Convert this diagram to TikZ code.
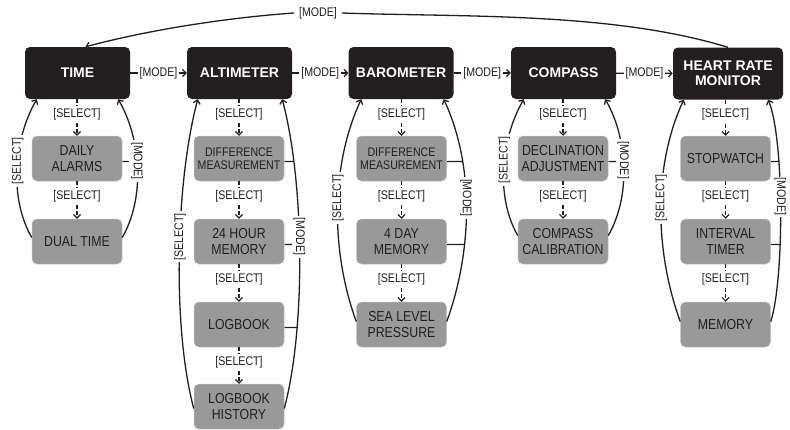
\documentclass[tikz,border=0pt]{standalone}
\usepackage{fontspec}
\setmainfont{Liberation Sans}
\newfontfamily\narrowfont[FakeStretch=0.85]{Liberation Sans}
\usetikzlibrary{arrows.meta,calc,intersections}
\pgfdeclarelayer{bg}
\pgfsetlayers{bg,main}
\definecolor{boxblack}{HTML}{231F20}
\definecolor{boxgrey}{HTML}{999999}
\definecolor{ink}{HTML}{231F20}
\newcommand\modetick[2]{%
  \path[name path=tkline] ($(#1.east)+(0,-3)$) -- ++(40,0);
  \begin{pgfonlayer}{bg}
  \draw[draw=ink, line width=1.3pt, name intersections={of=tkline and #2, by=tk}] ($(#1.east)+(0,-3)$) -- (tk);
  \end{pgfonlayer}}
\begin{document}
\begin{tikzpicture}[x=1pt,y=1pt,
  topbox/.style={rounded corners=5pt, fill=boxblack, text=white, font=\fontsize{14}{15}\selectfont\bfseries, minimum width=105pt, minimum height=52pt, align=center, inner sep=2pt},
  subbox/.style={rounded corners=5pt, fill=boxgrey, draw=black!25, line width=0.5pt, text=ink, font=\narrowfont\fontsize{14.5}{15.5}\selectfont, minimum width=90pt, minimum height=45pt, align=center, inner sep=1pt},
  small/.style={font=\narrowfont\fontsize{12.5}{13}\selectfont},
  lbl/.style={font=\narrowfont\fontsize{12.5}{13}\selectfont, text=ink, fill=white, inner sep=2pt},
  tip/.style={-{Straight Barb[length=3.5pt,width=7pt]}},
  flow/.style={draw=ink, line width=1.2pt, tip},
  sel/.style={flow, dash pattern=on 4pt off 2pt},
  loop/.style={draw=ink, line width=1.3pt, tip},
]
\useasboundingbox (0,0) rectangle (790,-429);
% main modes
\node[topbox] (time) at (77.5,-73) {TIME};
\node[topbox] (alt) at (239.5,-73) {ALTIMETER};
\node[topbox] (baro) at (401,-73) {BAROMETER};
\node[topbox] (comp) at (563.5,-73) {COMPASS};
\node[topbox, minimum width=110pt] (hrm) at (728,-73.5) {HEART RATE\\MONITOR};
% sub modes
\node[subbox] (ta) at (77,-158.5) {DAILY\\ALARMS};
\node[subbox] (tb) at (77,-241.5) {DUAL TIME};
\node[subbox, small] (aa) at (239,-158.5) {DIFFERENCE\\MEASUREMENT};
\node[subbox] (ab) at (239,-241.5) {24 HOUR\\MEMORY};
\node[subbox] (ac) at (239,-324.5) {LOGBOOK};
\node[subbox] (ad) at (239,-406.5) {LOGBOOK\\HISTORY};
\node[subbox, small] (ba) at (401.5,-158.5) {DIFFERENCE\\MEASUREMENT};
\node[subbox] (bb) at (401.5,-241.5) {4 DAY\\MEMORY};
\node[subbox] (bc) at (401.5,-324.5) {SEA LEVEL\\PRESSURE};
\node[subbox] (ca) at (563,-158.5) {DECLINATION\\ADJUSTMENT};
\node[subbox] (cb) at (563,-241.5) {COMPASS\\CALIBRATION};
\node[subbox] (ha) at (725.5,-158.5) {STOPWATCH};
\node[subbox] (hb) at (725.5,-241.5) {INTERVAL\\TIMER};
\node[subbox] (hc) at (725.5,-324.5) {MEMORY};
% horizontal mode connectors
\draw[flow] (time) -- node[lbl]{[MODE]} (alt);
\draw[flow] (alt) -- node[lbl]{[MODE]} (baro);
\draw[flow] (baro) -- node[lbl]{[MODE]} (comp);
\draw[flow] (comp) -- node[lbl]{[MODE]} (hrm);
% top return
\node[lbl, inner sep=5pt] (topmode) at (318,-13) {[MODE]};
\coordinate (tmtip) at ($(time.north)+(8,0)$);
\draw[draw=ink, line width=1.3pt] (hrm.north) to[out=163,in=-2,looseness=0.8] (topmode.east);
\draw[loop] (topmode.west) to[out=184,in=15,looseness=0.8] (tmtip);
% select chains
\draw[sel] (ta.north |- time.south) -- node[lbl,pos=0.4]{[SELECT]} (ta.north);
\draw[sel] (tb.north |- ta.south) -- node[lbl,pos=0.4]{[SELECT]} (tb.north);
\draw[sel] (aa.north |- alt.south) -- node[lbl,pos=0.4]{[SELECT]} (aa.north);
\draw[sel] (ab.north |- aa.south) -- node[lbl,pos=0.4]{[SELECT]} (ab.north);
\draw[sel] (ac.north |- ab.south) -- node[lbl,pos=0.4]{[SELECT]} (ac.north);
\draw[sel] (ad.north |- ac.south) -- node[lbl,pos=0.4]{[SELECT]} (ad.north);
\draw[sel] (ba.north |- baro.south) -- node[lbl,pos=0.4]{[SELECT]} (ba.north);
\draw[sel] (bb.north |- ba.south) -- node[lbl,pos=0.4]{[SELECT]} (bb.north);
\draw[sel] (bc.north |- bb.south) -- node[lbl,pos=0.4]{[SELECT]} (bc.north);
\draw[sel] (ca.north |- comp.south) -- node[lbl,pos=0.4]{[SELECT]} (ca.north);
\draw[sel] (cb.north |- ca.south) -- node[lbl,pos=0.4]{[SELECT]} (cb.north);
\draw[sel] (ha.north |- hrm.south) -- node[lbl,pos=0.4]{[SELECT]} (ha.north);
\draw[sel] (hb.north |- ha.south) -- node[lbl,pos=0.4]{[SELECT]} (hb.north);
\draw[sel] (hc.north |- hb.south) -- node[lbl,pos=0.4]{[SELECT]} (hc.north);
% loops: TIME
\draw[loop] ($(tb.west)+(0,4)$) to[out=120,in=-120,looseness=0.85] node[lbl,rotate=90,pos=0.55]{[SELECT]} ($(time.south west)+(12,0)$);
\draw[loop, name path=tR] ($(tb.east)+(0,4)$) to[out=60,in=-60,looseness=0.85] node[lbl,rotate=-90,pos=0.55]{[MODE]} ($(time.south east)+(-12,0)$);
% ALTIMETER
\draw[loop] ($(ad.west)+(0,-2)$) to[out=105,in=-105,looseness=0.7] node[lbl,rotate=90,pos=0.55]{[SELECT]} ($(alt.south west)+(11,0)$);
\draw[loop, name path=aR] ($(ad.east)+(0,-2)$) to[out=75,in=-75,looseness=0.7] node[lbl,rotate=-90,pos=0.55]{[MODE]} ($(alt.south east)+(-10,0)$);
% BAROMETER
\draw[loop] ($(bc.west)+(0,3)$) to[out=110,in=-115,looseness=0.85] node[lbl,rotate=90,pos=0.55]{[SELECT]} ($(baro.south west)+(13,0)$);
\draw[loop, name path=bR] ($(bc.east)+(0,3)$) to[out=70,in=-65,looseness=0.85] node[lbl,rotate=-90,pos=0.55]{[MODE]} ($(baro.south east)+(-10,0)$);
% COMPASS
\draw[loop] ($(cb.west)+(0,6)$) to[out=120,in=-120,looseness=0.85] node[lbl,rotate=90,pos=0.55]{[SELECT]} ($(comp.south west)+(13,0)$);
\draw[loop, name path=cR] ($(cb.east)+(0,6)$) to[out=60,in=-60,looseness=0.85] node[lbl,rotate=-90,pos=0.55]{[MODE]} ($(comp.south east)+(-11,0)$);
% HEART RATE MONITOR
\draw[loop] ($(hc.west)+(0,3)$) to[out=110,in=-115,looseness=0.85] node[lbl,rotate=90,pos=0.55]{[SELECT]} ($(hrm.south west)+(11,0)$);
\draw[loop, name path=hR] ($(hc.east)+(0,3)$) to[out=72,in=-68,looseness=0.5] node[lbl,rotate=-90,pos=0.55,inner sep=1pt]{[MODE]} ($(hrm.south east)+(-15,0)$);
% mode ticks
\modetick{ta}{tR}
\modetick{aa}{aR}
\modetick{ab}{aR}
\modetick{ac}{aR}
\modetick{ba}{bR}
\modetick{bb}{bR}
\modetick{ca}{cR}
\modetick{ha}{hR}
\modetick{hb}{hR}
\end{tikzpicture}
\end{document}
